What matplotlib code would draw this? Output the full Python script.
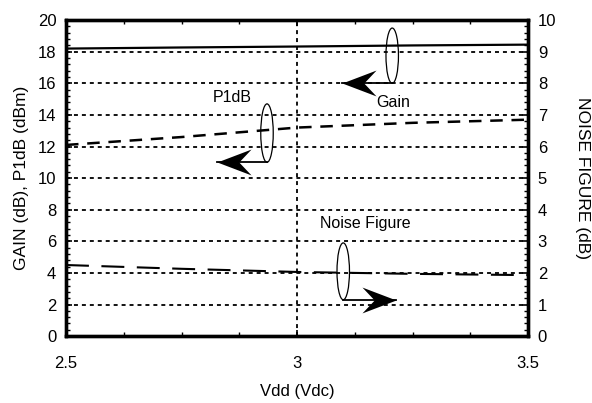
import numpy as np
import matplotlib
matplotlib.use('Agg')
import matplotlib.pyplot as plt
from matplotlib.patches import Ellipse
from matplotlib.path import Path
from matplotlib.ticker import MultipleLocator

plt.rcParams['font.family'] = ['Liberation Sans', 'DejaVu Sans']

vdd = [2.5, 2.75, 3.0, 3.25, 3.5]
gain = [18.2, 18.27, 18.33, 18.4, 18.45]
p1db = [12.1, 12.6, 13.2, 13.5, 13.7]
nf = [2.25, 2.13, 2.03, 1.97, 1.93]

left_ticks = [0, 2, 4, 6, 8, 10, 12, 14, 16, 18, 20]
right_ticks = [0, 1, 2, 3, 4, 5, 6, 7, 8, 9, 10]
x_ticks = [2.5, 3.0, 3.5]
x_labels = ['2.5', '3', '3.5']

fig = plt.figure(figsize=(5.92, 4.03), dpi=100)
ax = fig.add_axes([0.1115, 0.166, 0.7805, 0.784])
ax2 = ax.twinx()

ax.plot(vdd, gain, color='black', lw=1.6)
ax.plot(vdd, p1db, color='black', lw=1.8, dashes=(5, 3.5))
ax2.plot(vdd, nf, color='black', lw=1.5, dashes=(11, 6))

ax.set_xlim(2.5, 3.5)
ax.set_ylim(0, 20)
ax2.set_ylim(0, 10)
ax.set_xticks(x_ticks)
ax.set_xticklabels(x_labels)
ax.set_yticks(left_ticks)
ax2.set_yticks(right_ticks)
ax.xaxis.set_minor_locator(MultipleLocator(0.125))
ax.yaxis.set_minor_locator(MultipleLocator(0.4))
ax2.yaxis.set_minor_locator(MultipleLocator(0.2))

# grid
for y in left_ticks[1:-1]:
    ax.axhline(y, color='black', lw=1.3, dashes=(2.2, 2.2), zorder=0)
ax.axvline(3.0, color='black', lw=1.3, dashes=(2.2, 2.2), zorder=0)

for a in (ax, ax2):
    for s in a.spines.values():
        s.set_linewidth(2.4)
ax.tick_params(which='both', direction='in', top=True, labelsize=12)
ax.tick_params(axis='x', which='major', length=4, width=1.2, pad=14)
ax.tick_params(axis='y', which='major', length=4, width=1.2, pad=7)
ax.tick_params(which='minor', length=3, width=1.0)
ax2.tick_params(which='both', direction='in', labelsize=12, pad=7)
ax2.tick_params(which='major', length=4, width=1.2)
ax2.tick_params(which='minor', length=3, width=1.0)

ax.set_xlabel('Vdd (Vdc)', fontsize=12, labelpad=10)
ax.set_ylabel('GAIN (dB), P1dB (dBm)', fontsize=12.5, labelpad=6)
ax2.set_ylabel('NOISE FIGURE (dB)', fontsize=12.5, rotation=-90, labelpad=24)

# swept-back arrowheads, tip at the origin
head_left = Path([(0, 0), (1, 0.38), (0.64, 0), (1, -0.38), (0, 0)],
                 [Path.MOVETO, Path.LINETO, Path.LINETO, Path.LINETO, Path.CLOSEPOLY])
head_right = Path([(0, 0), (-1, 0.38), (-0.64, 0), (-1, -0.38), (0, 0)],
                  [Path.MOVETO, Path.LINETO, Path.LINETO, Path.LINETO, Path.CLOSEPOLY])


def marker_arrow(x0, x1, y, head):
    ax.plot([x0, x1], [y, y], color='black', lw=1.3, zorder=5)
    ax.plot([x1], [y], marker=head, ms=49, color='black', mew=0, zorder=6)


# Gain marker
ax.add_patch(Ellipse((3.206, 17.75), 0.027, 3.5, fill=False, lw=0.9, zorder=5))
marker_arrow(3.206, 3.097, 16.0, head_left)
ax.text(3.208, 14.8, 'Gain', ha='center', va='center', fontsize=11.5)

# P1dB marker
ax.add_patch(Ellipse((2.935, 12.85), 0.027, 3.7, fill=False, lw=0.9, zorder=5))
marker_arrow(2.935, 2.827, 11.0, head_left)
ax.text(2.86, 15.1, 'P1dB', ha='center', va='center', fontsize=11.5)

# Noise Figure marker
ax.add_patch(Ellipse((3.10, 4.1), 0.027, 3.6, fill=False, lw=0.9, zorder=5))
marker_arrow(3.10, 3.214, 2.28, head_right)
ax.text(3.147, 7.15, 'Noise Figure', ha='center', va='center', fontsize=11.5)

plt.savefig('out.png', dpi=100)
